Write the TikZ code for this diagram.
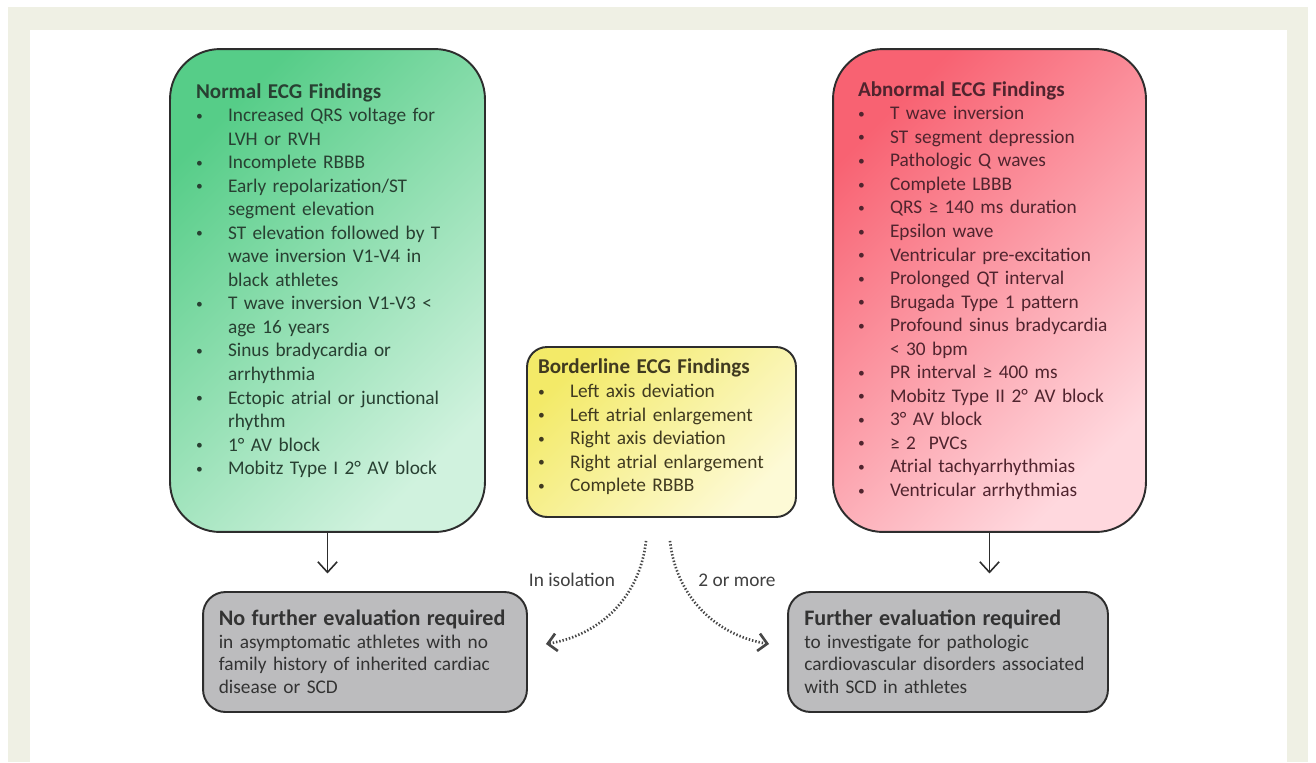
\documentclass[tikz,border=0pt]{standalone}
\usepackage{fontspec}
\setmainfont{Carlito}
\usetikzlibrary{arrows.meta,calc}
\definecolor{framebeige}{RGB}{239,240,228}
\definecolor{normtop}{RGB}{86,205,136}
\definecolor{normbot}{RGB}{208,242,222}
\definecolor{normink}{RGB}{40,64,50}
\definecolor{abntop}{RGB}{248,98,114}
\definecolor{abnbot}{RGB}{255,216,222}
\definecolor{abnink}{RGB}{80,36,46}
\definecolor{bordtop}{RGB}{243,234,104}
\definecolor{bordbot}{RGB}{253,250,214}
\definecolor{bordink}{RGB}{64,58,32}
\definecolor{evalgrey}{RGB}{188,188,190}
\definecolor{edgeink}{RGB}{45,45,45}
\setlength{\parindent}{0pt}
\newcommand{\finding}[1]{\par\hangindent=0.64cm\hangafter=1\makebox[0.64cm][l]{\raisebox{0.15ex}{\scalebox{0.7}{\textbullet}}}#1}

\begin{document}
\begin{tikzpicture}[x=0.02cm, y=-0.02cm,
  findbox/.style={draw=edgeink, line width=1.1pt, align=left, inner sep=0pt,
    font=\fontsize{11}{13.4}\selectfont, shading angle=45},
  evalbox/.style={draw=edgeink, line width=1.1pt, fill=evalgrey, rounded corners=0.45cm,
    align=left, inner sep=0pt, text=black!80, font=\fontsize{11}{12.8}\selectfont},
  lead/.style={draw=edgeink, line width=0.9pt, -{Straight Barb[length=6pt,width=11pt]}},
  maybe/.style={draw=black!72, line width=1.5pt, dash pattern=on 0.8pt off 1.1pt, -{Straight Barb[length=5pt,width=10pt]}},
  branch/.style={font=\fontsize{11}{13}\selectfont, text=black!75}]
  \useasboundingbox (0,0) rectangle (1316,762);
  \fill[framebeige] (8,7) rectangle (1308,762);
  \fill[white] (30,30) rectangle (1287,762);

  \node[findbox, top color=normtop, bottom color=normbot, shading angle=45, rounded corners=1cm,
    minimum width=6.3cm, minimum height=9.66cm, text width=5.26cm, text=normink] (normal) at (327.5,290.5) {%
    {\fontsize{12}{13.4}\selectfont\bfseries Normal ECG Findings}
    \finding{Increased QRS voltage for\newline LVH or RVH}
    \finding{Incomplete RBBB}
    \finding{Early repolarization/ST\newline segment elevation}
    \finding{ST elevation followed by T\newline wave inversion V1-V4 in\newline black athletes}
    \finding{T wave inversion V1-V3 <\newline age 16 years}
    \finding{Sinus bradycardia or\newline arrhythmia}
    \finding{Ectopic atrial or junctional\newline rhythm}
    \finding{1° AV block}
    \finding{Mobitz Type I 2° AV block}\par\vspace*{0.4cm}};

  \node[findbox, top color=abntop, bottom color=abnbot, shading angle=45, rounded corners=1cm,
    minimum width=6.26cm, minimum height=9.66cm, text width=5.26cm, text=abnink] (abnormal) at (989.5,290.5) {%
    {\fontsize{12}{13.4}\selectfont\bfseries Abnormal ECG Findings}
    \finding{T wave inversion}
    \finding{ST segment depression}
    \finding{Pathologic Q waves}
    \finding{Complete LBBB}
    \finding{QRS ≥ 140 ms duration}
    \finding{Epsilon wave}
    \finding{Ventricular pre-excitation}
    \finding{Prolonged QT interval}
    \finding{Brugada Type 1 pattern}
    \finding{Profound sinus bradycardia\newline < 30 bpm}
    \finding{PR interval ≥ 400 ms}
    \finding{Mobitz Type II 2° AV block}
    \finding{3° AV block}
    \finding{≥ 2 \ PVCs}
    \finding{Atrial tachyarrhythmias}
    \finding{Ventricular arrhythmias}};

  \node[findbox, top color=bordtop, bottom color=bordbot, shading angle=45, rounded corners=0.4cm,
    minimum width=5.38cm, minimum height=3.4cm, text width=4.94cm, text=bordink] (border) at (661.5,432) {%
    {\fontsize{12}{13.4}\selectfont\bfseries Borderline ECG Findings}
    \finding{Left axis deviation}
    \finding{Left atrial enlargement}
    \finding{Right axis deviation}
    \finding{Right atrial enlargement}
    \finding{Complete RBBB}\par\vspace*{0.2cm}};

  \node[evalbox, minimum width=6.48cm, minimum height=2.4cm, text width=5.85cm] (noeval) at (365,652) {%
    {\fontsize{12.6}{12.8}\selectfont\bfseries No further evaluation required}\par
    in asymptomatic athletes with no\newline family history of inherited cardiac\newline disease or SCD};
  \node[evalbox, minimum width=6.4cm, minimum height=2.4cm, text width=5.75cm] (furthereval) at (948,652) {%
    {\fontsize{12.6}{12.8}\selectfont\bfseries Further evaluation required}\par
    to investigate for pathologic\newline cardiovascular disorders associated\newline with SCD in athletes};

  \draw[lead, shorten >=10pt] (normal.south) -- (normal.south |- noeval.north);
  \draw[lead, shorten >=10pt] (abnormal.south) -- (abnormal.south |- furthereval.north);

  \draw[maybe] ($(border.south)+(-15.5,23)$) .. controls ($(border.south)+(-21.5,78)$) and ($(noeval.east)+(73,-17)$) .. ($(noeval.east)+(18,-8)$);
  \draw[maybe] ($(border.south)+(8.5,23)$) .. controls ($(border.south)+(14.5,78)$) and ($(furthereval.west)+(-72,-17)$) .. ($(furthereval.west)+(-18,-8)$);
  \node[branch] (alone) at (572,580) {In isolation};
  \node[branch] (several) at (737,580) {2 or more};
\end{tikzpicture}
\end{document}
